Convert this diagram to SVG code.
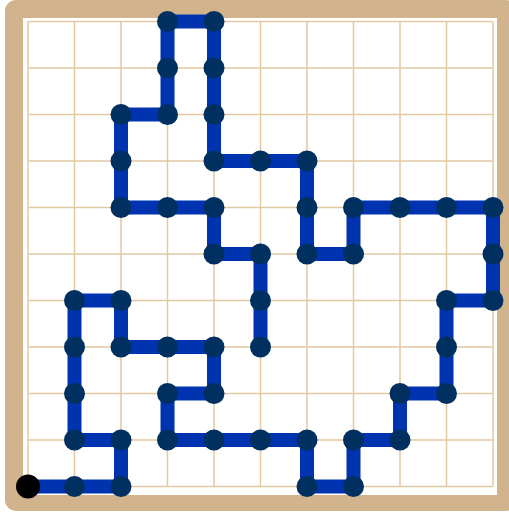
<svg xmlns="http://www.w3.org/2000/svg" width="509" height="514" viewBox="0 0 509 514">
<style>
.grid line{stroke:#e2c9a2;stroke-width:1.5}
.path{fill:none;stroke:#0033b0;stroke-width:14;stroke-linejoin:miter;stroke-linecap:butt}
.node{fill:#00305f}
.start{fill:#000}
</style>
<rect x="5" y="0" width="512" height="511" rx="11" fill="#d2b48c"/>
<rect x="23" y="18" width="474" height="477" fill="#fff"/>
<g class="grid">
<line x1="28" y1="21.5" x2="28" y2="486.5"/>
<line x1="74.5" y1="21.5" x2="74.5" y2="486.5"/>
<line x1="121" y1="21.5" x2="121" y2="486.5"/>
<line x1="167.5" y1="21.5" x2="167.5" y2="486.5"/>
<line x1="214" y1="21.5" x2="214" y2="486.5"/>
<line x1="260.5" y1="21.5" x2="260.5" y2="486.5"/>
<line x1="307" y1="21.5" x2="307" y2="486.5"/>
<line x1="353.5" y1="21.5" x2="353.5" y2="486.5"/>
<line x1="400" y1="21.5" x2="400" y2="486.5"/>
<line x1="446.5" y1="21.5" x2="446.5" y2="486.5"/>
<line x1="493" y1="21.5" x2="493" y2="486.5"/>
<line x1="28" y1="21.5" x2="493" y2="21.5"/>
<line x1="28" y1="68" x2="493" y2="68"/>
<line x1="28" y1="114.5" x2="493" y2="114.5"/>
<line x1="28" y1="161" x2="493" y2="161"/>
<line x1="28" y1="207.5" x2="493" y2="207.5"/>
<line x1="28" y1="254" x2="493" y2="254"/>
<line x1="28" y1="300.5" x2="493" y2="300.5"/>
<line x1="28" y1="347" x2="493" y2="347"/>
<line x1="28" y1="393.5" x2="493" y2="393.5"/>
<line x1="28" y1="440" x2="493" y2="440"/>
<line x1="28" y1="486.5" x2="493" y2="486.5"/>
</g>
<g id="connectors">
<polyline class="path" points="28,486.5 74.5,486.5 121,486.5 121,440 74.5,440 74.5,393.5 74.5,347 74.5,300.5 121,300.5 121,347 167.5,347 214,347 214,393.5 167.5,393.5 167.5,440 214,440 260.5,440 307,440 307,486.5 353.5,486.5 353.5,440 400,440 400,393.5 446.5,393.5 446.5,347 446.5,300.5 493,300.5 493,254 493,207.5 446.5,207.5 400,207.5 353.5,207.5 353.5,254 307,254 307,207.5 307,161 260.5,161 214,161 214,114.5 214,68 214,21.5 167.5,21.5 167.5,68 167.5,114.5 121,114.5 121,161 121,207.5 167.5,207.5 214,207.5 214,254 260.5,254 260.5,300.5 260.5,347"/>
</g>
<g id="nodes">
<circle id="n0" class="start" cx="28" cy="486.5" r="12"/>
<circle id="n1" class="node" cx="74.5" cy="486.5" r="10.5"/>
<circle id="n2" class="node" cx="121" cy="486.5" r="10.5"/>
<circle id="n3" class="node" cx="121" cy="440" r="10.5"/>
<circle id="n4" class="node" cx="74.5" cy="440" r="10.5"/>
<circle id="n5" class="node" cx="74.5" cy="393.5" r="10.5"/>
<circle id="n6" class="node" cx="74.5" cy="347" r="10.5"/>
<circle id="n7" class="node" cx="74.5" cy="300.5" r="10.5"/>
<circle id="n8" class="node" cx="121" cy="300.5" r="10.5"/>
<circle id="n9" class="node" cx="121" cy="347" r="10.5"/>
<circle id="n10" class="node" cx="167.5" cy="347" r="10.5"/>
<circle id="n11" class="node" cx="214" cy="347" r="10.5"/>
<circle id="n12" class="node" cx="214" cy="393.5" r="10.5"/>
<circle id="n13" class="node" cx="167.5" cy="393.5" r="10.5"/>
<circle id="n14" class="node" cx="167.5" cy="440" r="10.5"/>
<circle id="n15" class="node" cx="214" cy="440" r="10.5"/>
<circle id="n16" class="node" cx="260.5" cy="440" r="10.5"/>
<circle id="n17" class="node" cx="307" cy="440" r="10.5"/>
<circle id="n18" class="node" cx="307" cy="486.5" r="10.5"/>
<circle id="n19" class="node" cx="353.5" cy="486.5" r="10.5"/>
<circle id="n20" class="node" cx="353.5" cy="440" r="10.5"/>
<circle id="n21" class="node" cx="400" cy="440" r="10.5"/>
<circle id="n22" class="node" cx="400" cy="393.5" r="10.5"/>
<circle id="n23" class="node" cx="446.5" cy="393.5" r="10.5"/>
<circle id="n24" class="node" cx="446.5" cy="347" r="10.5"/>
<circle id="n25" class="node" cx="446.5" cy="300.5" r="10.5"/>
<circle id="n26" class="node" cx="493" cy="300.5" r="10.5"/>
<circle id="n27" class="node" cx="493" cy="254" r="10.5"/>
<circle id="n28" class="node" cx="493" cy="207.5" r="10.5"/>
<circle id="n29" class="node" cx="446.5" cy="207.5" r="10.5"/>
<circle id="n30" class="node" cx="400" cy="207.5" r="10.5"/>
<circle id="n31" class="node" cx="353.5" cy="207.5" r="10.5"/>
<circle id="n32" class="node" cx="353.5" cy="254" r="10.5"/>
<circle id="n33" class="node" cx="307" cy="254" r="10.5"/>
<circle id="n34" class="node" cx="307" cy="207.5" r="10.5"/>
<circle id="n35" class="node" cx="307" cy="161" r="10.5"/>
<circle id="n36" class="node" cx="260.5" cy="161" r="10.5"/>
<circle id="n37" class="node" cx="214" cy="161" r="10.5"/>
<circle id="n38" class="node" cx="214" cy="114.5" r="10.5"/>
<circle id="n39" class="node" cx="214" cy="68" r="10.5"/>
<circle id="n40" class="node" cx="214" cy="21.5" r="10.5"/>
<circle id="n41" class="node" cx="167.5" cy="21.5" r="10.5"/>
<circle id="n42" class="node" cx="167.5" cy="68" r="10.5"/>
<circle id="n43" class="node" cx="167.5" cy="114.5" r="10.5"/>
<circle id="n44" class="node" cx="121" cy="114.5" r="10.5"/>
<circle id="n45" class="node" cx="121" cy="161" r="10.5"/>
<circle id="n46" class="node" cx="121" cy="207.5" r="10.5"/>
<circle id="n47" class="node" cx="167.5" cy="207.5" r="10.5"/>
<circle id="n48" class="node" cx="214" cy="207.5" r="10.5"/>
<circle id="n49" class="node" cx="214" cy="254" r="10.5"/>
<circle id="n50" class="node" cx="260.5" cy="254" r="10.5"/>
<circle id="n51" class="node" cx="260.5" cy="300.5" r="10.5"/>
<circle id="n52" class="node" cx="260.5" cy="347" r="10.5"/>
</g>
</svg>
